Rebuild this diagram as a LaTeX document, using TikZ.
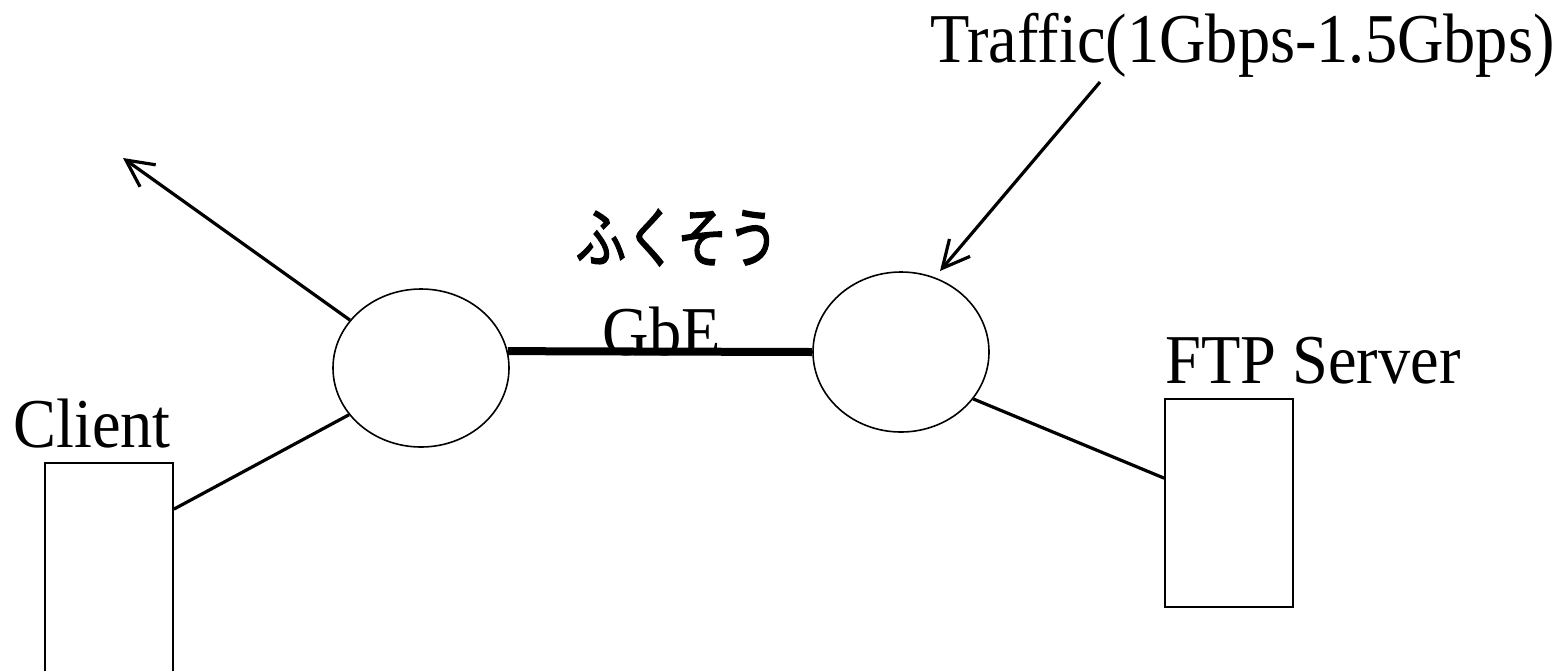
\documentclass[tikz,border=0pt]{standalone}
\usepackage{fontspec}
\setmainfont{Liberation Serif}
\newfontfamily\jp[FakeBold=2]{Noto Sans CJK JP}
\usetikzlibrary{shapes.geometric,arrows.meta}
\begin{document}
\begin{tikzpicture}[x=0.5pt,y=-0.5pt,
  lbl/.style={inner sep=0pt,xscale=0.92,font=\fontsize{35}{40}\selectfont},
  hub/.style={draw,ellipse,line width=0.8pt,inner sep=0pt,minimum width=88pt},
  host/.style={draw,rectangle,line width=0.85pt,inner sep=0pt,minimum width=64pt},
  conn/.style={line width=1.6pt},
  trunk/.style={line width=4pt},
  arr/.style={conn,-{Straight Barb[length=13.5pt,width=13.5pt,line width=1.6pt]}}
]
\useasboundingbox (0,0) rectangle (1562,670);
% hosts
\node[host,minimum height=127pt] (client) at (109,590) {};
\node[host,minimum height=104pt] (ftp) at (1229,503) {};
% hubs
\node[hub,minimum height=79pt] (left) at (421,368) {};
\node[hub,minimum height=80pt] (right) at (901,352) {};
% labels
\node[lbl,anchor=base west] (clientlbl) at (13,447) {Client};
\node[lbl,anchor=base west] (ftplbl) at (1165,383) {FTP Server};
\node[lbl,anchor=base west] (traffic) at (930,62) {Traffic(1Gbps-1.5Gbps)};
\node[lbl,anchor=base] (gbe) at (662,355) {GbE};
\node[inner sep=0pt,anchor=base,xscale=0.77,font=\jp\fontsize{33}{38}\selectfont] (fukusou) at (677,262) {ふくそう};
% free ends
\coordinate (out) at (123,158);
\coordinate (tstart) at (1100,82);
\coordinate (ttip) at (940,271);
% connectors
\draw[trunk] (left.11) -- (right.west);
\draw[arr] (left.146) -- (out);
\draw[conn] (left.213) -- ([yshift=-23.5pt]client.north east);
\draw[conn] (right.-33) -- ([yshift=-40pt]ftp.north west);
\draw[arr] (tstart) -- (ttip);
\end{tikzpicture}
\end{document}
